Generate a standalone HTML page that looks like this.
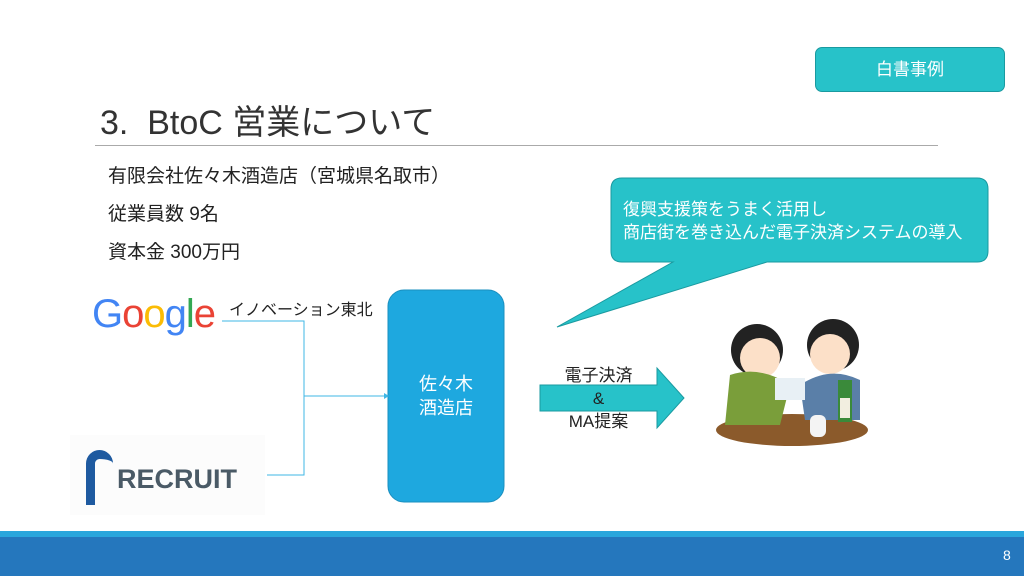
<!DOCTYPE html>
<html><head><meta charset="utf-8"><style>
body{margin:0;width:1024px;height:576px;position:relative;overflow:hidden;background:#fff;font-family:"Liberation Sans","Noto Sans CJK JP",sans-serif;}
.a{position:absolute;white-space:nowrap;}
</style></head><body>
<div class="a" style="left:815px;top:47px;width:188px;height:43px;background:#27c2c9;border:1px solid #1a9aa0;border-radius:7px;color:#fff;font-size:17px;line-height:43px;text-align:center;">白書事例</div>
<div class="a" style="left:100px;top:95px;font-size:34px;color:#333;">3.&nbsp;&nbsp;BtoC 営業について</div>
<div class="a" style="left:95px;top:145px;width:843px;height:1px;background:#aaa;"></div>
<div class="a" style="left:108px;top:158px;font-size:19px;color:#222;line-height:38px;">有限会社佐々木酒造店（宮城県名取市）<br>従業員数 9名<br>資本金 300万円</div>
<svg class="a" style="left:0;top:0" width="1024" height="576">
<path d="M622,178 H977 Q988,178 988,189 V251 Q988,262 977,262 H767 L557,327 L673,262 H622 Q611,262 611,251 V189 Q611,178 622,178 Z" fill="#27c2c9" stroke="#1a9aa0"/>
<path d="M540,385 H657 V368 L684,398 L657,428 V411 H540 Z" fill="#27c2c9" stroke="#1a9aa0"/>
<rect x="388" y="290" width="116" height="212" rx="16" fill="#1ea8df" stroke="#1a8fbf"/>
<path d="M222,321 H304 V475 H267 M304,396 H384" fill="none" stroke="#3fb7e6" stroke-width="1"/>
<path d="M384,393 L389,396 L384,399 Z" fill="#3fb7e6"/>
<rect x="0" y="531" width="1024" height="6" fill="#2aa6dc"/>
<rect x="0" y="537" width="1024" height="39" fill="#2577bd"/>
<rect x="70" y="435" width="195" height="80" fill="#fcfcfc"/>
<ellipse cx="792" cy="430" rx="76" ry="16" fill="#8b5a2b"/>
<circle cx="757" cy="350" r="26" fill="#222"/><circle cx="760" cy="358" r="20" fill="#fce0c8"/>
<path d="M730,375 Q760,365 790,385 L780,425 H725 Z" fill="#7a9e3a"/>
<circle cx="833" cy="345" r="26" fill="#222"/><circle cx="830" cy="354" r="20" fill="#fce0c8"/>
<path d="M800,385 Q830,365 860,380 L860,420 H805 Z" fill="#5a7fa8"/>
<rect x="775" y="378" width="30" height="22" fill="#e8f0f5"/>
<rect x="838" y="380" width="14" height="42" fill="#3a8a3a"/><rect x="840" y="398" width="10" height="20" fill="#f2eee0"/>
<rect x="810" y="415" width="16" height="22" rx="6" fill="#f4f4f4"/>
</svg>
<div class="a" style="left:92px;top:292px;font-size:40px;letter-spacing:-1px;"><span style="color:#4285f4">G</span><span style="color:#ea4335">o</span><span style="color:#fbbc05">o</span><span style="color:#4285f4">g</span><span style="color:#34a853">l</span><span style="color:#ea4335">e</span></div>
<div class="a" style="left:229px;top:296px;font-size:16px;color:#222;">イノベーション東北</div>
<div class="a" style="left:86px;top:450px;width:18px;height:46px;border:9px solid #1e5aa0;border-bottom:none;border-right:none;border-radius:20px 20px 0 0;"></div>
<div class="a" style="left:117px;top:464px;font-size:27px;font-weight:bold;color:#4a5a66;">RECRUIT</div>
<div class="a" style="left:388px;top:372px;width:116px;text-align:center;color:#fff;font-size:18px;line-height:24px;">佐々木<br>酒造店</div>
<div class="a" style="left:540px;top:364px;width:117px;text-align:center;color:#222;font-size:17px;line-height:23px;">電子決済<br>&amp;<br>MA提案</div>
<div class="a" style="left:623px;top:198px;color:#fff;font-size:17px;line-height:23px;">復興支援策をうまく活用し<br>商店街を巻き込んだ電子決済システムの導入</div>
<div class="a" style="left:1003px;top:547px;color:#fff;font-size:14px;">8</div>
</body></html>
